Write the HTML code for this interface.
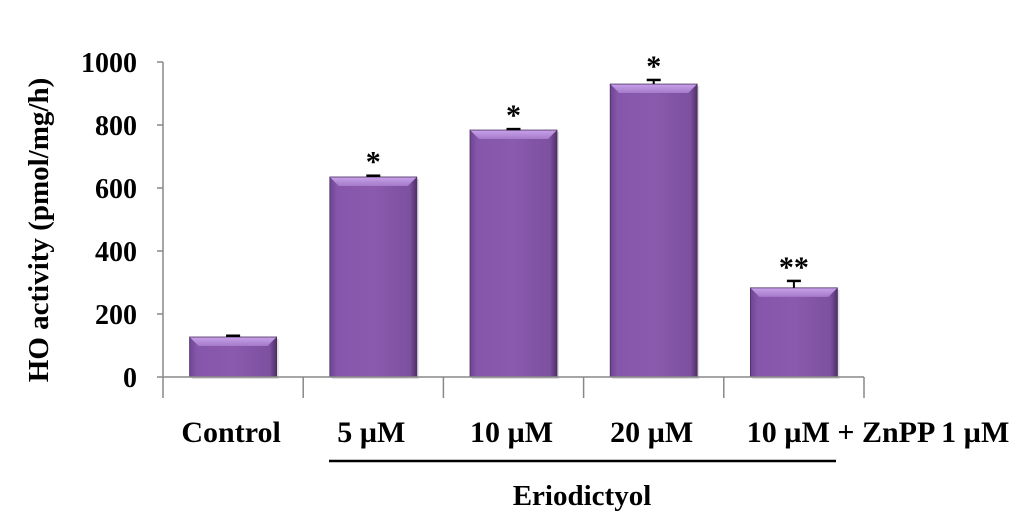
<!DOCTYPE html>
<html><head><meta charset="utf-8"><style>
body{margin:0;background:#fff;}
svg text{font-family:"Liberation Serif",serif;font-weight:bold;fill:#000;}
</style></head><body>
<svg id="chart" width="1024" height="527" xmlns="http://www.w3.org/2000/svg">
<defs>
<linearGradient id="bodyG" x1="0" x2="1" y1="0" y2="0">
<stop offset="0" stop-color="#6d4590"/><stop offset="0.08" stop-color="#8556ab"/><stop offset="0.5" stop-color="#8a5aae"/><stop offset="0.92" stop-color="#7d50a0"/><stop offset="1" stop-color="#4f3068"/>
</linearGradient>
<linearGradient id="topG" x1="0" x2="0" y1="0" y2="1">
<stop offset="0" stop-color="#c9a0ea"/><stop offset="1" stop-color="#a47bc8"/>
</linearGradient>
</defs>
<g id="bars"></g>
<g id="axes"></g>
</svg>
<script>
const categories = ["Control","5 µM","10 µM","20 µM","10 µM + ZnPP 1 µM"];
const values = [127, 635, 784, 930, 283];
const errors = [4, 4, 3, 13, 22];
const marks = ["", "*", "*", "*", "**"];
const yTicks = [0, 200, 400, 600, 800, 1000];

const NS = "http://www.w3.org/2000/svg";
const x0 = 163, x1 = 864, y0 = 377, yTop = 62;
const catW = (x1 - x0) / categories.length;
const barW = 87;
function y(v){ return y0 - (v / 1000) * (y0 - yTop); }
function xc(i){ return x0 + catW * (i + 0.5); }
function mk(tag, attrs, parent){
  const e = document.createElementNS(NS, tag);
  for (const k in attrs) e.setAttribute(k, attrs[k]);
  parent.appendChild(e); return e;
}
const bars = document.getElementById("bars");
const axes = document.getElementById("axes");

values.forEach((v, i) => {
  const g = mk("g", {}, bars);
  
  
  const bx = xc(i) - barW / 2, by = y(v), h = y0 - by;
  mk("rect", {x: bx + 2, y: by + 2, width: barW, height: h, fill: "#bbb", opacity: 0.5}, g);
  mk("rect", {x: bx, y: by, width: barW, height: h, fill: "url(#bodyG)"}, g);
  const b = 9;
  mk("polygon", {points: `${bx},${by} ${bx+barW},${by} ${bx+barW-b},${by+b} ${bx+b},${by+b}`, fill: "url(#topG)"}, g);
  mk("rect", {x: bx, y: by, width: barW, height: h, fill: "none", stroke: "#4a2e60", "stroke-width": 0.8}, g);
  const ey = y(v + errors[i]);
  const eb = mk("g", {}, g);
  
  
  mk("line", {x1: xc(i), x2: xc(i), y1: by, y2: ey, stroke: "#000", "stroke-width": 2}, eb);
  mk("line", {x1: xc(i) - 7, x2: xc(i) + 7, y1: ey, y2: ey, stroke: "#000", "stroke-width": 2.5}, eb);
  if (marks[i]) {
    const t = mk("text", {x: xc(i), y: ey - 4, "text-anchor": "middle", "font-size": 30}, g);
    
    
    t.textContent = marks[i];
  }
});

const ya = mk("line", {x1: x0, x2: x0, y1: yTop, y2: y0, stroke: "#888", "stroke-width": 1.5}, axes);


const xa = mk("line", {x1: x0, x2: x1, y1: y0, y2: y0, stroke: "#888", "stroke-width": 1.5}, axes);


yTicks.forEach(t => {
  mk("line", {x1: x0 - 6, x2: x0, y1: y(t), y2: y(t), stroke: "#888", "stroke-width": 1.5}, axes);
  const l = mk("text", {x: x0 - 26, y: y(t) + 10, "text-anchor": "end", "font-size": 28}, axes);
  
  
  l.textContent = t;
});
for (let i = 0; i <= categories.length; i++) {
  mk("line", {x1: x0 + catW * i, x2: x0 + catW * i, y1: y0, y2: y0 + 21, stroke: "#888", "stroke-width": 1.5}, axes);
}
categories.forEach((c, i) => {
  const last = i === categories.length - 1;
  const l = mk("text", {x: last ? x0 + catW * i + 23 : xc(i) - 2, y: 442, "text-anchor": last ? "start" : "middle", "font-size": 30}, axes);
  
  
  l.textContent = c;
});
const yt = mk("text", {x: 0, y: 0, "text-anchor": "middle", "font-size": 29, transform: `translate(48,230) rotate(-90)`}, axes);


yt.textContent = "HO activity (pmol/mg/h)";
const br = mk("line", {x1: 329, x2: 836, y1: 461, y2: 461, stroke: "#000", "stroke-width": 2.5}, axes);


const gl = mk("text", {x: 582, y: 505, "text-anchor": "middle", "font-size": 29}, axes);


gl.textContent = "Eriodictyol";
</script>
</body></html>
